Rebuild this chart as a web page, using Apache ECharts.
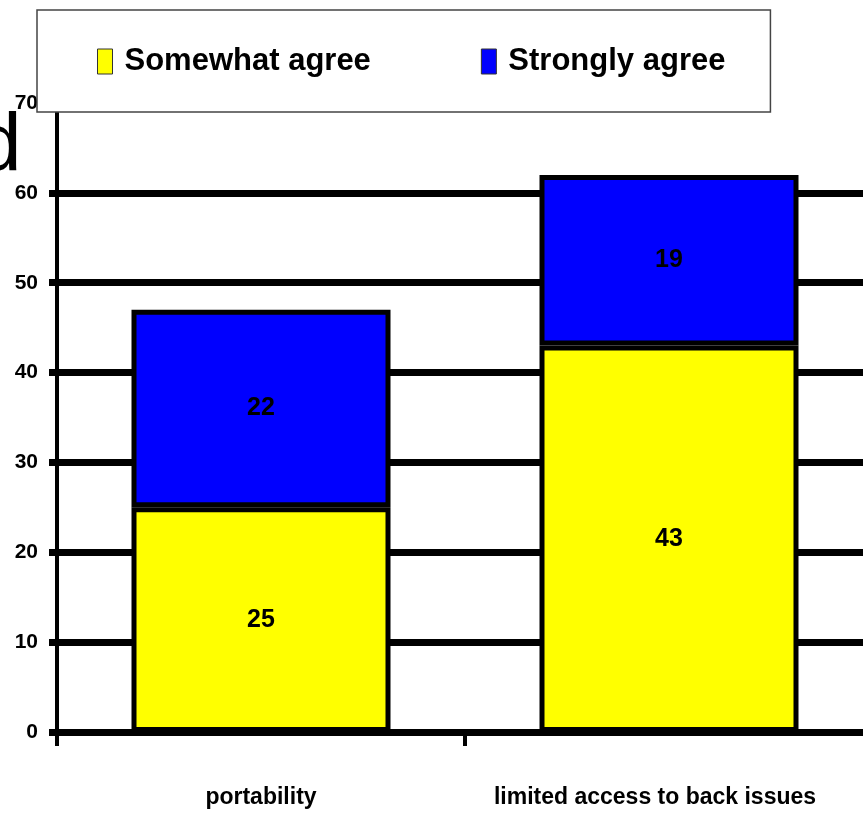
<!DOCTYPE html>
<html>
<head>
<meta charset="utf-8">
<script src="https://cdn.jsdelivr.net/npm/echarts@6/dist/echarts.min.js"></script>
<style>
  html, body { margin: 0; padding: 0; background: #fff; overflow: hidden; }
  /* the plot area runs a little past the right edge of the page */
  #chart { width: 880px; height: 816px; }
</style>
</head>
<body>
<div id="chart"></div>
<script>
// Survey responses per reason (percent of respondents)
const categories = ['portability', 'limited access to back issues'];
const somewhatAgree = [25, 43];
const stronglyAgree = [22, 19];
const yMin = 0, yMax = 70, yStep = 10;

const sans = "'Liberation Sans', Arial, sans-serif";

const chart = echarts.init(document.getElementById('chart'), null, { renderer: 'canvas' });

const barLabel = {
  show: true,
  position: 'inside',
  color: '#000',
  fontFamily: sans,
  fontWeight: 'bold',
  fontSize: 25
};

const catText = { fontFamily: sans, fontWeight: 'bold', fontSize: 23, color: '#000' };

chart.setOption({
  animation: false,
  backgroundColor: '#fff',
  graphic: [{
    // fragment of the slide heading, clipped at the left edge
    type: 'text',
    left: -24,
    top: 106,
    style: {
      text: 'd',
      fill: '#000',
      font: "normal 82px 'Liberation Sans', Arial, sans-serif"
    },
    z: 1
  }],
  legend: {
    orient: 'horizontal',
    left: 37,
    top: 10,
    width: 820,
    padding: [36, 45, 35, 60],
    itemGap: 110,
    itemWidth: 15,
    itemHeight: 25,
    icon: 'rect',
    backgroundColor: '#fff',
    borderColor: '#444',
    borderWidth: 1.5,
    itemStyle: { borderColor: '#333', borderWidth: 1 },
    textStyle: {
      color: '#000',
      fontFamily: sans,
      fontWeight: 'bold',
      fontSize: 31,
      padding: [0, 0, 0, 7]
    },
    data: ['Somewhat agree', 'Strongly agree']
  },
  grid: {
    left: 57,
    top: 103,
    width: 816,
    bottom: 84,
    containLabel: false
  },
  xAxis: {
    type: 'category',
    data: categories,
    boundaryGap: true,
    axisLine: { show: true, lineStyle: { color: '#000', width: 7 } },
    axisTick: { show: true, interval: 0, length: 14, lineStyle: { color: '#000', width: 4 } },
    axisLabel: {
      interval: 0,
      margin: 54,
      // the long label is nudged left so it stays inside the page
      formatter: (v, i) => (i === categories.length - 1 ? '{last|' + v + '}' : '{cat|' + v + '}'),
      rich: {
        cat: catText,
        last: Object.assign({ padding: [0, 28, 0, 0] }, catText)
      }
    },
    splitLine: { show: false }
  },
  yAxis: {
    type: 'value',
    min: yMin,
    max: yMax,
    interval: yStep,
    axisLine: { show: true, lineStyle: { color: '#000', width: 4 } },
    axisTick: { show: true, length: 8, lineStyle: { color: '#000', width: 7 } },
    axisLabel: {
      color: '#000',
      fontFamily: sans,
      fontWeight: 'bold',
      fontSize: 21,
      margin: 19
    },
    splitLine: { show: true, showMaxLine: false, lineStyle: { color: '#000', width: 7 } }
  },
  series: [
    {
      name: 'Somewhat agree',
      type: 'bar',
      stack: 'total',
      barWidth: 259,
      data: somewhatAgree,
      itemStyle: { color: '#FFFF00', borderColor: '#000', borderWidth: 5 },
      label: barLabel,
      z: 3
    },
    {
      name: 'Strongly agree',
      type: 'bar',
      stack: 'total',
      barWidth: 259,
      data: stronglyAgree,
      itemStyle: { color: '#0000FF', borderColor: '#000', borderWidth: 5 },
      label: barLabel,
      z: 3
    }
  ]
});
</script>
</body>
</html>
